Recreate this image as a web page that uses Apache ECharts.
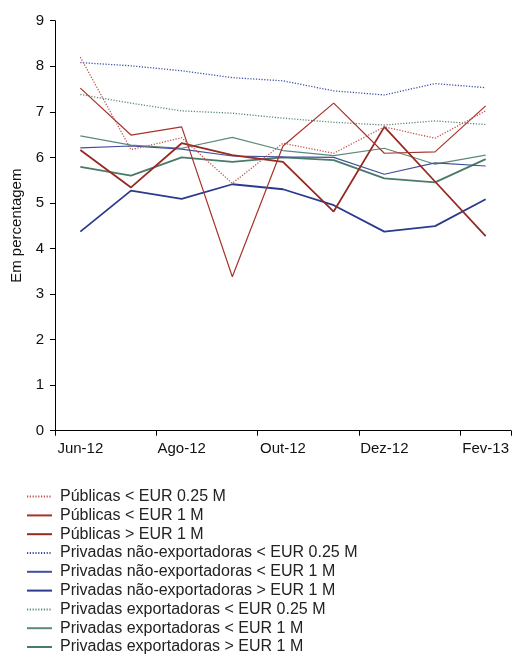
<!DOCTYPE html>
<html>
<head>
<meta charset="utf-8">
<script src="https://cdn.jsdelivr.net/npm/echarts@6/dist/echarts.min.js"></script>
<style>
  html, body { margin: 0; padding: 0; background: #fff; }
  #chart { width: 513px; height: 656px; }
</style>
</head>
<body>
<div id="chart"></div>
<script>
// Monthly categories (Jun-12 .. Fev-13)
const months = ['Jun-12', 'Jul-12', 'Ago-12', 'Set-12', 'Out-12', 'Nov-12', 'Dez-12', 'Jan-13', 'Fev-13'];

// Interest rates, in percent
const publicasSmall  = [8.20, 6.17, 6.43, 5.43, 6.31, 6.09, 6.67, 6.42, 7.02];
const publicasMid    = [7.52, 6.49, 6.67, 3.38, 6.25, 7.19, 6.09, 6.12, 7.13];
const publicasLarge  = [6.16, 5.34, 6.31, 6.05, 5.90, 4.81, 6.67, 5.47, 4.27];
const naoExpSmall    = [8.08, 8.01, 7.90, 7.75, 7.68, 7.46, 7.37, 7.62, 7.53];
const naoExpMid      = [6.21, 6.25, 6.18, 6.03, 6.01, 6.00, 5.63, 5.88, 5.81];
const naoExpLarge    = [4.37, 5.27, 5.09, 5.41, 5.30, 4.95, 4.37, 4.49, 5.08];
const expSmall       = [7.38, 7.19, 7.02, 6.97, 6.86, 6.77, 6.71, 6.80, 6.72];
const expMid         = [6.47, 6.27, 6.20, 6.44, 6.15, 6.04, 6.20, 5.85, 6.05];
const expLarge       = [5.79, 5.60, 6.00, 5.90, 6.00, 5.94, 5.54, 5.45, 5.96];

const seriesNames = [
  'Públicas < EUR 0.25 M',
  'Públicas < EUR 1 M',
  'Públicas > EUR 1 M',
  'Privadas não-exportadoras < EUR 0.25 M',
  'Privadas não-exportadoras < EUR 1 M',
  'Privadas não-exportadoras > EUR 1 M',
  'Privadas exportadoras < EUR 0.25 M',
  'Privadas exportadoras < EUR 1 M',
  'Privadas exportadoras > EUR 1 M'
];
const seriesData = [publicasSmall, publicasMid, publicasLarge, naoExpSmall, naoExpMid, naoExpLarge, expSmall, expMid, expLarge];
const seriesStyle = [
  { color: '#c0504d', width: 1.3, type: [1.2, 1.6] },
  { color: '#a8332b', width: 1.2, type: 'solid' },
  { color: '#962a22', width: 1.8, type: 'solid' },
  { color: '#3d4fa3', width: 1.3, type: [1.2, 1.6] },
  { color: '#3f4f9e', width: 1.2, type: 'solid' },
  { color: '#2c3a8e', width: 1.8, type: 'solid' },
  { color: '#5b8a78', width: 1.3, type: [1.2, 1.6] },
  { color: '#5b8a7a', width: 1.2, type: 'solid' },
  { color: '#4a7a68', width: 1.8, type: 'solid' }
];

const FONT = '"Liberation Sans", Arial, sans-serif';

const chart = echarts.init(document.getElementById('chart'), null, { renderer: 'canvas' });

chart.setOption({
  animation: false,
  textStyle: { fontFamily: FONT },
  grid: { left: 55, right: 2, top: 20.7, bottom: 225.3, containLabel: false },
  xAxis: {
    type: 'category',
    data: months,
    boundaryGap: true,
    axisLine: { lineStyle: { color: '#000', width: 1 } },
    axisTick: { show: true, interval: 1, length: 5, lineStyle: { color: '#000' } },
    axisLabel: { interval: 1, color: '#111', fontSize: 15, fontFamily: FONT, margin: 11 },
    splitLine: { show: false }
  },
  yAxis: {
    type: 'value',
    min: 0,
    max: 9,
    interval: 1,
    name: 'Em percentagem',
    nameLocation: 'middle',
    nameGap: 31,
    nameRotate: 90,
    nameTextStyle: { color: '#111', fontSize: 15, fontFamily: FONT },
    axisLine: { show: true, lineStyle: { color: '#000', width: 1 } },
    axisTick: { show: true, length: 5, lineStyle: { color: '#000' } },
    axisLabel: { color: '#111', fontSize: 15, fontFamily: FONT, margin: 11 },
    splitLine: { show: false }
  },
  legend: {
    orient: 'vertical',
    left: 26,
    top: 488.6,
    padding: 0,
    itemWidth: 25,
    itemHeight: 12,
    itemGap: 2.8,
    itemStyle: { opacity: 0 },
    textStyle: { color: '#222', fontSize: 16, fontFamily: FONT, padding: [0, 0, 0, 3] },
    data: seriesNames
  },
  series: seriesNames.map((name, i) => ({
    name: name,
    type: 'line',
    data: seriesData[i],
    symbol: 'none',
    showSymbol: false,
    z: 10 - i,
    lineStyle: { color: seriesStyle[i].color, width: seriesStyle[i].width, type: seriesStyle[i].type },
    itemStyle: { color: seriesStyle[i].color }
  }))
});
</script>
</body>
</html>
